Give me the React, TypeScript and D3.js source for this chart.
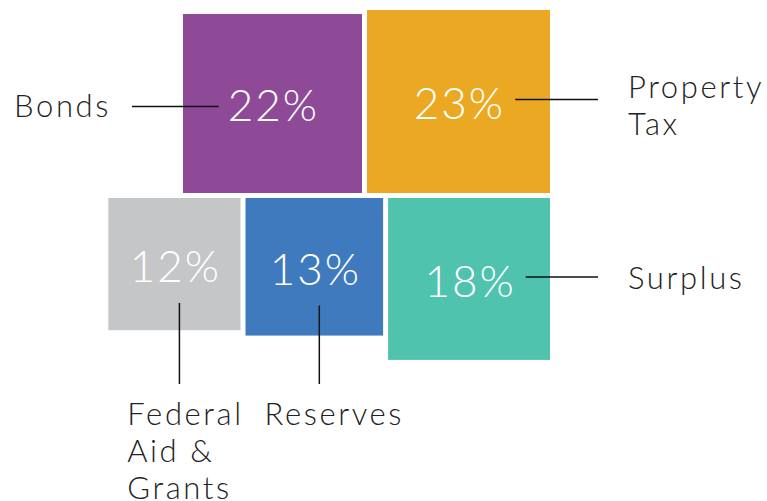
import React, { useEffect, useRef } from "react";
import * as d3 from "d3";

const categories = ["Bonds", "Property Tax", "Federal Aid & Grants", "Reserves", "Surplus"];
const shares = [22, 23, 12, 13, 18];
const labelLines = [["Bonds"], ["Property", "Tax"], ["Federal", "Aid &", "Grants"], ["Reserves"], ["Surplus"]];
const labelSides = ["left", "right", "bottom", "bottom", "right"];
const colors = ["#8E4A97", "#EBA923", "#C5C6C8", "#3F7ABE", "#50C3AF"];
const rows = [[0, 1], [2, 3, 4]];

const W = 767;
const H = 501;
const FONT = "Lato, 'Open Sans', sans-serif";

export default function App() {
	const ref = useRef<SVGSVGElement>(null);

	useEffect(() => {
		const svg = d3.select(ref.current);
		svg.selectAll("*").remove();

		// area ~ share
		const side = d3.scaleSqrt().domain([0, 25]).range([0, 190.8]);
		const gap = 5;
		const right = 550;
		const midY = 195.5;

		// lay out rows right-aligned, top row sits on midY, bottom row hangs from it
		const boxes: any[] = [];
		rows.forEach((row, ri) => {
			let x = right;
			for (let k = row.length - 1; k >= 0; k--) {
				const i = row[k];
				const s = side(shares[i]);
				x -= s;
				const y = ri === 0 ? midY - gap / 2 - s : midY + gap / 2;
				boxes[i] = { i, x, y, s };
				x -= gap;
			}
		});

		const g = svg.append("g");

		g.selectAll("rect")
			.data(boxes)
			.enter()
			.append("rect")
			.attr("x", (d) => d.x)
			.attr("y", (d) => d.y)
			.attr("width", (d) => d.s)
			.attr("height", (d) => d.s)
			.attr("fill", (d) => colors[d.i]);

		const pct = g
			.selectAll("text.pct")
			.data(boxes)
			.enter()
			.append("text")
			.classed("pct", true)
			.attr("x", (d) => d.x + d.s / 2 + 1)
			.attr("y", (d) => d.y + d.s / 2 + 2)
			.attr("dy", "0.36em")
			.attr("text-anchor", "middle")
			.attr("fill", "#fff")
			.style("font-family", FONT)
			.style("font-weight", 300)
			.style("font-size", "44px")
			.style("letter-spacing", "2px")
			.text((d) => shares[d.i] + "%");

		const bb: any[] = [];
		pct.each(function (d: any) {
			bb[d.i] = (this as SVGTextElement).getBBox();
		});

		const lineH = 37;
		boxes.forEach((d) => {
			const b = bb[d.i];
			const side = labelSides[d.i];
			const lines = labelLines[d.i];
			const cy = d.y + d.s / 2;
			let x1, y1, x2, y2, tx, ty, anchor;
			if (side === "left") {
				x1 = 132;
				x2 = b.x - 9;
				y1 = y2 = cy + 3;
				tx = 111;
				ty = y1 + 10;
				anchor = "end";
			} else if (side === "right") {
				x1 = b.x + b.width + 10;
				x2 = right + 48;
				y1 = y2 = cy - 2;
				tx = x2 + 30;
				ty = lines.length > 1 ? y1 - 1 : y1 + 12;
				anchor = "start";
			} else {
				x1 = x2 = d.x + d.s / 2 + 5;
				y1 = b.y + b.height + 12;
				y2 = 384;
				tx = d.x + 19;
				ty = 425;
				anchor = "start";
			}
			g.append("line")
				.attr("x1", x1)
				.attr("y1", y1)
				.attr("x2", x2)
				.attr("y2", y2)
				.attr("stroke", "#111")
				.attr("stroke-width", 1.5);

			const t = g
				.append("text")
				.attr("x", tx)
				.attr("y", ty)
				.attr("text-anchor", anchor)
				.attr("fill", "#222")
				.style("font-family", FONT)
				.style("font-weight", 300)
				.style("font-size", "31px")
				.style("letter-spacing", "2.6px");
			lines.forEach((ln, li) => {
				t.append("tspan").attr("x", tx).attr("dy", li === 0 ? 0 : lineH).text(ln);
			});
		});
	}, []);

	return (
		<svg
			ref={ref}
			width={W}
			height={H}
			style={{ position: "absolute", left: 0, top: 0, background: "#fff" }}
		/>
	);
}
